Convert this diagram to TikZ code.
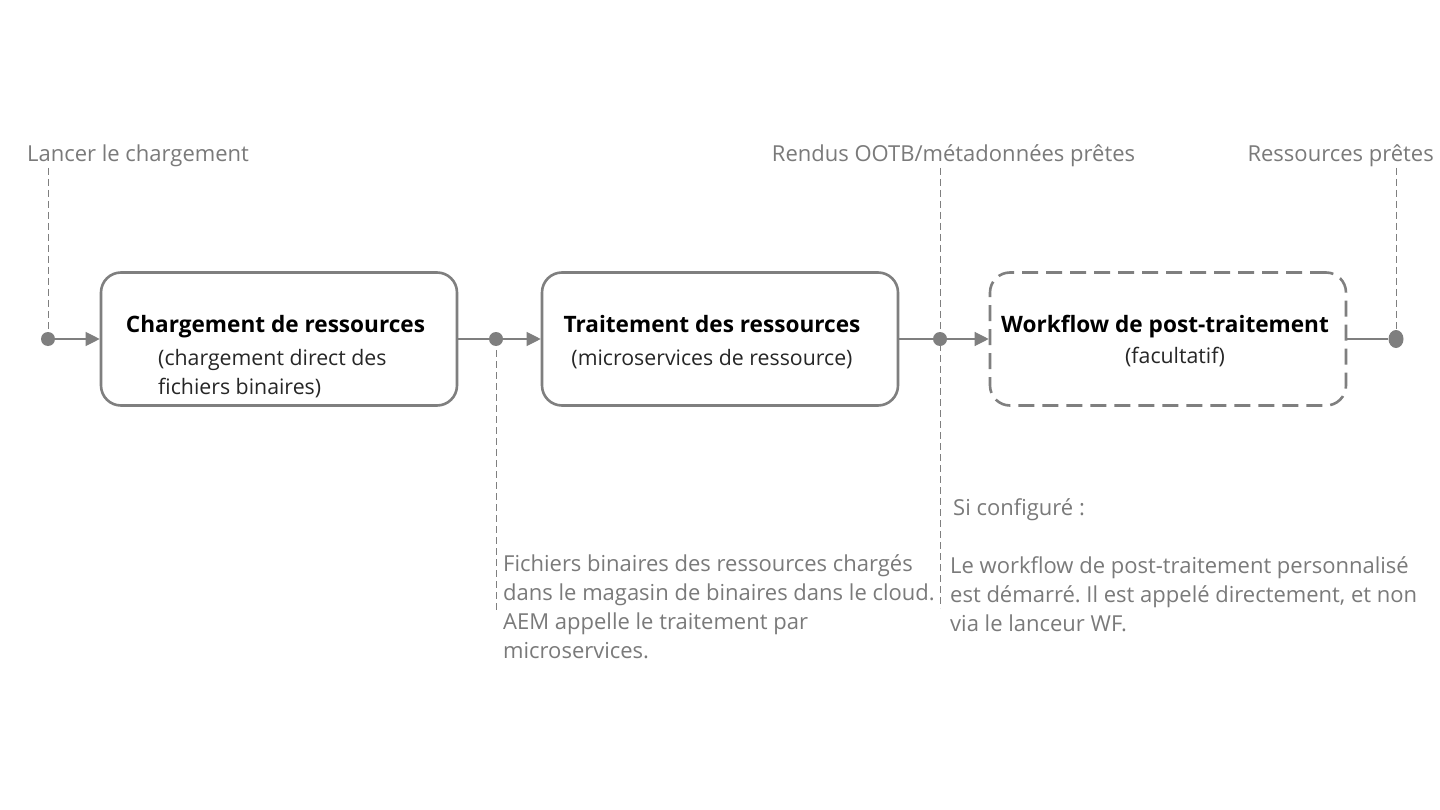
\documentclass[tikz,border=0pt]{standalone}
\usepackage{fontspec}
\setmainfont{Open Sans}
\usetikzlibrary{arrows.meta,shapes.geometric}
\definecolor{linegray}{HTML}{7F7F7F}
\definecolor{textgray}{HTML}{7A7A7A}
\tikzset{
  procbox/.style={draw=linegray, line width=2.6pt, rounded corners=20pt, minimum width=356pt, minimum height=133pt, inner sep=0pt},
  optbox/.style={procbox, dash pattern=on 16pt off 8pt},
  dot/.style={circle, fill=linegray, inner sep=0pt, minimum size=14pt},
  enddot/.style={ellipse, fill=linegray, inner sep=0pt, minimum width=15pt, minimum height=18pt},
  flow/.style={draw=linegray, line width=1.2pt},
  flowarrow/.style={flow, -{Triangle[length=14pt,width=14pt]}},
  guide/.style={draw=linegray, line width=0.9pt, dash pattern=on 7pt off 4pt},
  title/.style={font=\fontsize{22.6}{27}\selectfont\bfseries, text=black, inner sep=0pt, anchor=base},
  sub/.style={font=\fontsize{21.3}{29}\selectfont, text=black!85, inner sep=0pt},
  note/.style={font=\fontsize{22}{29}\selectfont, text=textgray, inner sep=0pt, align=left},
}
\begin{document}
\frenchspacing
\begin{tikzpicture}[x=1pt,y=-1pt]
\useasboundingbox (0,0) rectangle (1440,810);
\fill[white] (0,0) rectangle (1440,810);

% guide line end points
\coordinate (t1) at (48,168);
\coordinate (t3) at (940,168);
\coordinate (t4) at (1396,168);
\coordinate (b2) at (496,610);
\coordinate (b3) at (940,608);

% boxes
\node[procbox] (box1) at (279,339) {};
\node[procbox] (box2) at (720,339) {};
\node[optbox] (box3) at (1168,339) {};

% guides (behind dots)
\draw[guide] (t1) -- (48,339);
\draw[guide] (496,339) -- (b2);
\draw[guide] (t3) -- (b3);
\draw[guide] (t4) -- (1396,339);

% dots
\node[dot] (d1) at (48,339) {};
\node[dot] (d2) at (496,339) {};
\node[dot] (d3) at (940,339) {};
\node[enddot] (d4) at (1396,339) {};

% connectors
\draw[flowarrow] (d1) -- (box1.west);
\draw[flow] (box1.east) -- (d2);
\draw[flowarrow] (d2) -- (box2.west);
\draw[flow] (box2.east) -- (d3);
\draw[flowarrow] (d3) -- (box3.west);
\draw[flow] (box3.east) -- (d4);

% box texts
\node[title] (ti1) at (275.5,332) {Chargement de ressources};
\node[sub, anchor=base west] (s1a) at (158,365) {(chargement direct des};
\node[sub, anchor=base west] (s1b) at (158,394) {fichiers binaires)};
\node[title] (ti2) at (712,332) {Traitement des ressources};
\node[sub, anchor=base] (s2) at (712,365) {(microservices de ressource)};
\node[title] (ti3) at (1165,332) {Workflow de post-traitement};
\node[sub, anchor=base] (s3) at (1175,363) {(facultatif)};

% top labels
\node[note, anchor=base west] (l1) at (27,162) {Lancer le chargement};
\node[note, anchor=base] (l3) at (953.5,162) {Rendus OOTB/métadonnées prêtes};
\node[note, anchor=base east] (l4) at (1434,162) {Ressources prêtes};

% bottom notes
\node[note, anchor=north west] (n2) at (503,554) {Fichiers binaires des ressources chargés\\dans le magasin de binaires dans le cloud.\\AEM appelle le traitement par\\microservices.};
\node[note, anchor=base west] (n3a) at (953,515) {Si configuré :};
\node[note, anchor=north west] (n3b) at (950,556) {Le workflow de post-traitement personnalisé\\est démarré. Il est appelé directement, et non\\via le lanceur WF.};
\end{tikzpicture}
\end{document}
